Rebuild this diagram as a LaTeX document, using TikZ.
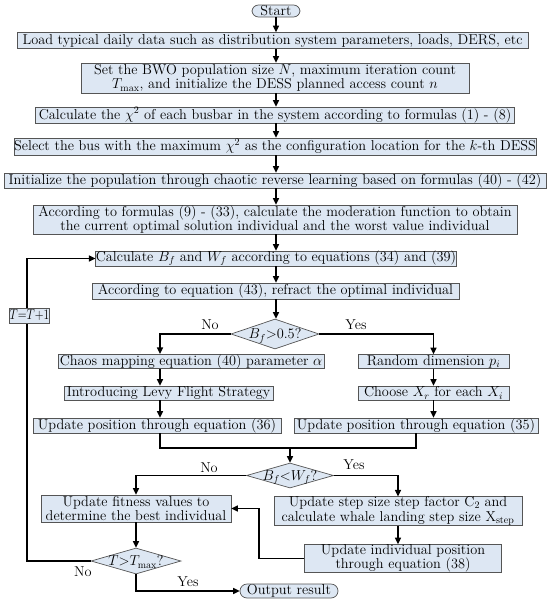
\documentclass[tikz,border=0pt]{standalone}
\usetikzlibrary{arrows.meta,shapes.geometric,calc}
\definecolor{boxfill}{RGB}{221,231,243}
\definecolor{boxline}{RGB}{85,85,85}
\newcommand{\mytxt}{\fontsize{14.3}{14.4}\selectfont}
\newcommand{\dtext}[1]{\smash{\raisebox{-0.34em}{\makebox[0pt]{#1}}}}
\begin{document}
\begin{tikzpicture}[x=1pt,y=-1pt,
  bx/.style={draw=boxline, fill=boxfill, line width=0.7pt, inner sep=0pt, align=center, font=\mytxt},
  term/.style={bx, rounded corners=6.5pt},
  dia/.style={bx, diamond, inner sep=0pt},
  lbl/.style={inner sep=0pt, font=\mytxt},
  ln/.style={line width=1.3pt, black},
  arr/.style={ln, -{Triangle[length=6.5pt,width=6pt]}}]
\useasboundingbox (0,0) rectangle (550,605);
% main column
\node[term, minimum width=48, minimum height=12] (start) at (276,11) {Start};
\node[bx, minimum width=511, minimum height=16] (b1) at (272.5,40.5) {Load typical daily data such as distribution system parameters, loads, DERS, etc};
\node[bx, minimum width=388, minimum height=30] (b2) at (275,78) {Set the BWO population size $N$, maximum iteration count\\ $T_{\max}$, and initialize the DESS planned access count $n$};
\node[bx, minimum width=479, minimum height=16] (b3) at (275,115) {Calculate the $\chi^2$ of each busbar in the system according to formulas (1) - (8)};
\node[bx, minimum width=522, minimum height=17] (b4) at (275,146.5) {Select the bus with the maximum $\chi^2$ as the configuration location for the $k$-th DESS};
\node[bx, minimum width=542, minimum height=15] (b5) at (275,180.5) {Initialize the population through chaotic reverse learning based on formulas (40) - (42)};
\node[bx, minimum width=484, minimum height=29] (b6) at (275,219.5) {According to formulas (9) - (33), calculate the moderation function to obtain\\ the current optimal solution individual and the worst value individual};
\node[bx, minimum width=358, minimum height=14] (b7) at (276,258.5) {Calculate $B_f$ and $W_f$ according to equations (34) and (39)};
\node[bx, minimum width=367, minimum height=16] (b8) at (275.5,291) {According to equation (43), refract the optimal individual};
\node[dia, minimum width=88, minimum height=30] (d1) at (275,334) {\dtext{$B_f{>}0.5$?}};
% branches
\coordinate (lc) at (160,0);
\coordinate (rc) at (433.5,0);
\node[bx, minimum width=266, minimum height=14] (chaos) at (191,361.5) {Chaos mapping equation (40) parameter $\alpha$};
\node[bx, minimum width=151, minimum height=14] (rand) at (433.5,361.5) {Random dimension $p_i$};
\node[bx, minimum width=209, minimum height=14] (levy) at (168.5,393) {Introducing Levy Flight Strategy};
\node[bx, minimum width=151, minimum height=14] (choose) at (433.5,393) {Choose $X_r$ for each $X_i$};
\node[bx, minimum width=248, minimum height=15] (u36) at (157,425.5) {Update position through equation (36)};
\node[bx, minimum width=244, minimum height=15] (u35) at (416,425.5) {Update position through equation (35)};
\coordinate (mg) at (290,448);
\node[dia, minimum width=87, minimum height=25] (d2) at (290,475.5) {\dtext{$B_f{<}W_f$?}};
\node[bx, minimum width=190, minimum height=27] (fit) at (136,508.5) {Update fitness values to\\ determine the best individual};
\node[bx, minimum width=248, minimum height=28] (stepbox) at (398,511) {Update step size step factor C$_2$ and\\ calculate whale landing step size X$_{\mathrm{step}}$};
\node[bx, minimum width=197, minimum height=27] (indiv) at (403,558.5) {Update individual position\\ through equation (38)};
\node[dia, minimum width=90, minimum height=26] (d3) at (136,561) {\dtext{$T{>}T_{\max}$?}};
\node[term, minimum width=98, minimum height=14, rounded corners=7pt] (out) at (289,591) {Output result};
\coordinate (ret) at (259,0);
\coordinate (lx) at (27,0);
% connectors main
\draw[arr] (start.south) -- (start.south |- b1.north);
\draw[arr] (b1.south -| start.south) -- (start.south |- b2.north);
\draw[arr] (b2.south -| start.south) -- (start.south |- b3.north);
\draw[arr] (b3.south -| start.south) -- (start.south |- b4.north);
\draw[arr] (b4.south -| start.south) -- (start.south |- b5.north);
\draw[arr] (b5.south -| start.south) -- (start.south |- b6.north);
\draw[arr] (b6.south -| start.south) -- (start.south |- b7.north);
\draw[arr] (b7.south -| start.south) -- (start.south |- b8.north);
\draw[arr] (b8.south -| start.south) -- (start.south |- d1.north);
% branch 1
\draw[arr] (d1.west) -| (lc |- chaos.north);
\draw[arr] (d1.east) -| (rc |- rand.north);
\draw[arr] (lc |- chaos.south) -- (lc |- levy.north);
\draw[arr] (lc |- levy.south) -- (lc |- u36.north);
\draw[arr] (rc |- rand.south) -- (rc |- choose.north);
\draw[arr] (rc |- choose.south) -- (rc |- u35.north);
\draw[ln] (lc |- u36.south) -- (lc |- mg) -- (mg -| u35.south) -- (u35.south);
\draw[arr] (mg) -- (d2.north);
% branch 2
\draw[arr] (d2.west) -| (fit.north);
\draw[arr] (d2.east) -| (stepbox.north);
\draw[arr] (stepbox.south) -- (stepbox.south |- indiv.north);
\draw[arr] (indiv.west) -- (ret |- indiv.west) |- (fit.east);
\draw[arr] (fit.south) -- (fit.south |- d3.north);
\draw[arr] (d3.south) -- (d3.south |- out.west) -- (out.west);
\draw[arr] (d3.west) -- (lx |- d3.west) -- (lx |- b7.west) -- (b7.west);
\node[bx, minimum width=39, minimum height=15] (tt) at (29.5,315.5) {\scalebox{0.8}[1]{$T{=}T{+}1$}};
% labels
\node[lbl] (no1) at (210,325) {No};
\node[lbl] (yes1) at (356,325) {Yes};
\node[lbl] (no2) at (209,467.5) {No};
\node[lbl] (yes2) at (354,465) {Yes};
\node[lbl] (no3) at (83,572) {No};
\node[lbl] (yes3) at (188,582) {Yes};
\end{tikzpicture}
\end{document}
